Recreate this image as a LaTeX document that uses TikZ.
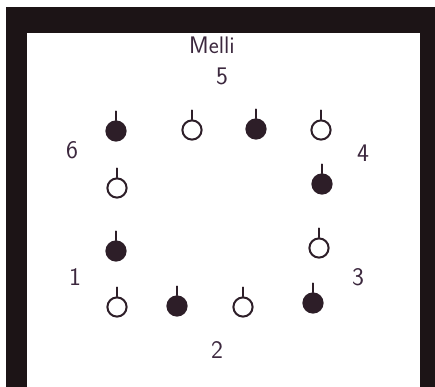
\documentclass[tikz,border=0pt]{standalone}
\usepackage{tikz}
\usetikzlibrary{positioning}
\definecolor{frameblack}{RGB}{28, 20, 22}
\definecolor{inkdark}{RGB}{45, 30, 40}
\definecolor{inktext}{RGB}{60, 40, 62}

\begin{document}
\begin{tikzpicture}[x=0.025cm, y=-0.025cm,
    peg/.style={circle, draw=inkdark, line width=1.4pt, minimum size=0.48cm, inner sep=0pt},
    fullpeg/.style={peg, fill=inkdark},
    openpeg/.style={peg, fill=white},
    stem/.style={draw=inkdark, line width=1.3pt, line cap=round},
    lbl/.style={font=\sffamily\fontsize{18}{20}\selectfont, text=inktext}]
    \useasboundingbox (0,0) rectangle (435,387);
    % Frame
    \fill[frameblack] (6,7) rectangle (435,387);
    \fill[white] (27,33) rectangle (420,387);
    % Title
    \node[lbl, font=\sffamily\fontsize{17}{19}\selectfont] (title) at (212,45) {Melli};
    % Side numbers
    \foreach \x/\y/\n in {75/277/1, 217/350/2, 358/277/3, 363/153/4, 222/76/5, 72/150/6}{
      \node[lbl] (n\n) at (\x,\y) {\n};
    }
    % Pegs
    \foreach \x/\y/\s/\n in {116/131/fullpeg/1, 192/130/openpeg/2, 256/129/fullpeg/3, 321/130/openpeg/4,
                             117/188/openpeg/5, 322/184/fullpeg/6, 116/251/fullpeg/7, 319/248/openpeg/8,
                             117/307/openpeg/9, 177/306/fullpeg/10, 243/307/openpeg/11, 313/303/fullpeg/12}{
      \node[\s] (p\n) at (\x,\y) {};
      \draw[stem] (p\n.north) -- ++(0,-9);
    }
\end{tikzpicture}
\end{document}
